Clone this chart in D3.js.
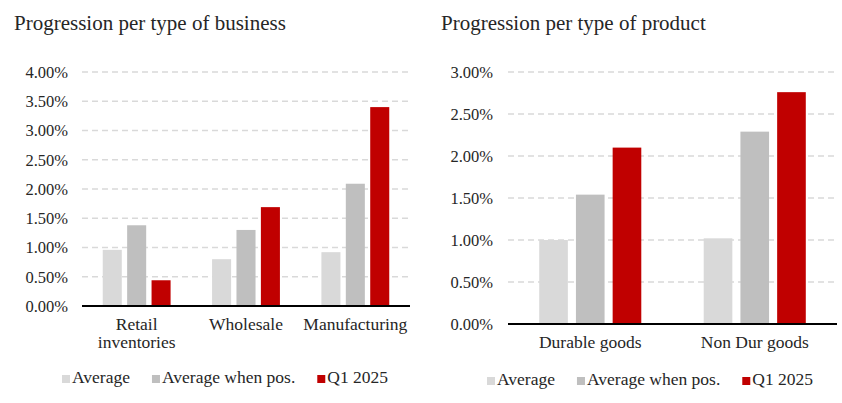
<!DOCTYPE html>
<html>
<head>
<meta charset="utf-8">
<script src="https://cdn.jsdelivr.net/npm/d3@7"></script>
<style>
  html, body { margin: 0; padding: 0; background: #ffffff; }
  svg { display: block; }
  text { font-family: "Liberation Serif", "Times New Roman", serif; fill: #262626; }
</style>
</head>
<body>
<svg id="chart" width="842" height="403"></svg>
<script>
// ---------- data ----------
const seriesNames = ["Average", "Average when pos.", "Q1 2025"];
const seriesColors = ["#d9d9d9", "#bfbfbf", "#c00000"];

const businessTitle = "Progression per type of business";
const businessCategories = ["Retail inventories", "Wholesale", "Manufacturing"];
const businessCategoryLines = [["Retail", "inventories"], ["Wholesale"], ["Manufacturing"]];
const businessAverage = [0.96, 0.80, 0.92];
const businessAvgWhenPos = [1.38, 1.30, 2.09];
const businessQ1 = [0.44, 1.69, 3.40];
const businessTicks = [0, 0.5, 1.0, 1.5, 2.0, 2.5, 3.0, 3.5, 4.0];

const productTitle = "Progression per type of product";
const productCategories = ["Durable goods", "Non Dur goods"];
const productCategoryLines = [["Durable goods"], ["Non Dur goods"]];
const productAverage = [1.00, 1.02];
const productAvgWhenPos = [1.54, 2.29];
const productQ1 = [2.10, 2.76];
const productTicks = [0, 0.5, 1.0, 1.5, 2.0, 2.5, 3.0];

// ---------- drawing ----------
const svg = d3.select("#chart");

function drawPanel(cfg) {
  const g = svg.append("g");
  const series = [cfg.s1, cfg.s2, cfg.s3];

  g.append("text")
    .attr("x", cfg.titleX).attr("y", cfg.titleY)
    .style("font-size", "21px")
    .text(cfg.title);

  const y = d3.scaleLinear()
    .domain([0, d3.max(cfg.ticks)])
    .range([cfg.y0, cfg.yTop]);

  const x = d3.scaleBand()
    .domain(cfg.categories)
    .range([cfg.x0, cfg.x1])
    .paddingInner(0).paddingOuter(0);

  const xs = d3.scaleBand()
    .domain(d3.range(series.length))
    .range([0, x.bandwidth()])
    .paddingInner(0.22).paddingOuter(0.85);

  // gridlines
  g.append("g").selectAll("line")
    .data(cfg.ticks.filter(t => t > 0))
    .join("line")
    .attr("x1", cfg.x0).attr("x2", cfg.x1)
    .attr("y1", d => y(d)).attr("y2", d => y(d))
    .attr("stroke", "#d9d9d9")
    .attr("stroke-width", 1.5)
    .attr("stroke-dasharray", "6,4");

  // y axis labels
  const yAxis = d3.axisLeft(y)
    .tickValues(cfg.ticks)
    .tickFormat(d => d.toFixed(2) + "%")
    .tickSize(0)
    .tickPadding(cfg.tickPad);
  const ya = g.append("g")
    .attr("transform", `translate(${cfg.x0},0)`)
    .call(yAxis);
  ya.select(".domain").remove();
  ya.selectAll("text")
    .style("font-family", '"Liberation Serif", serif')
    .style("font-size", "16.5px")
    .attr("fill", "#262626");

  // bars
  cfg.categories.forEach((c, ci) => {
    series.forEach((s, si) => {
      g.append("rect")
        .attr("x", x(c) + xs(si))
        .attr("width", xs.bandwidth())
        .attr("y", y(s[ci]))
        .attr("height", y(0) - y(s[ci]))
        .attr("fill", seriesColors[si]);
    });
  });

  // x axis line
  g.append("line")
    .attr("x1", cfg.x0).attr("x2", cfg.x1)
    .attr("y1", y(0)).attr("y2", y(0))
    .attr("stroke", "#000")
    .attr("stroke-width", 2);

  // category labels
  cfg.categories.forEach((c, ci) => {
    const t = g.append("text")
      .attr("text-anchor", "middle")
      .attr("x", x(c) + x.bandwidth() / 2)
      .attr("y", cfg.catY)
      .style("font-size", "17.5px");
    cfg.catLines[ci].forEach((ln, li) => {
      t.append("tspan")
        .attr("x", x(c) + x.bandwidth() / 2)
        .attr("dy", li === 0 ? 0 : 18)
        .text(ln);
    });
  });

  // legend
  let lx = cfg.legendX;
  seriesNames.forEach((n, i) => {
    g.append("rect")
      .attr("x", lx).attr("y", cfg.legendY - 8)
      .attr("width", 8).attr("height", 8)
      .attr("fill", seriesColors[i]);
    const t = g.append("text")
      .attr("x", lx + 10).attr("y", cfg.legendY)
      .style("font-size", "17.5px")
      .text(n);
    const w = t.node().getComputedTextLength();
    lx = lx + 10 + w + 22;
  });
}

drawPanel({
  title: businessTitle, titleX: 14, titleY: 30,
  categories: businessCategories, catLines: businessCategoryLines,
  s1: businessAverage, s2: businessAvgWhenPos, s3: businessQ1,
  ticks: businessTicks,
  x0: 82, x1: 410, y0: 306, yTop: 72, tickPad: 14,
  catY: 330, legendX: 62, legendY: 383
});

drawPanel({
  title: productTitle, titleX: 441, titleY: 30,
  categories: productCategories, catLines: productCategoryLines,
  s1: productAverage, s2: productAvgWhenPos, s3: productQ1,
  ticks: productTicks,
  x0: 508, x1: 837, y0: 324, yTop: 72, tickPad: 15,
  catY: 348, legendX: 487, legendY: 385
});
</script>
</body>
</html>
